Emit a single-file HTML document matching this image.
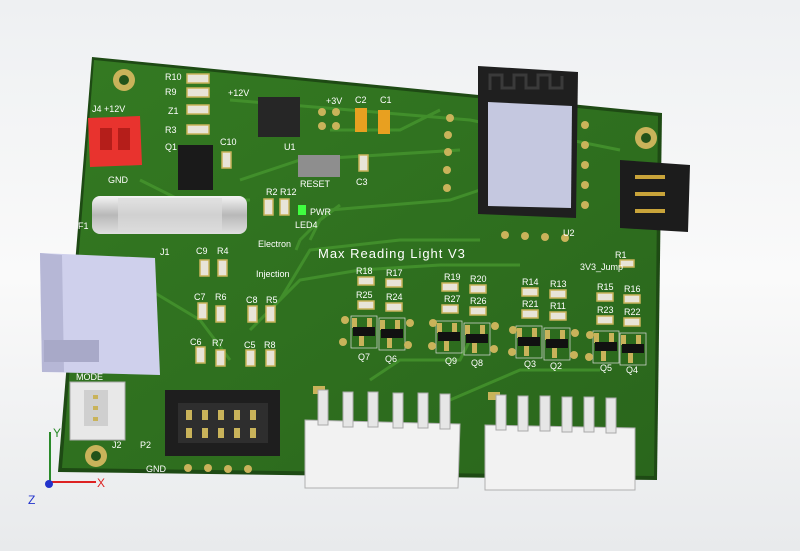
<!DOCTYPE html>
<html><head><style>
html,body{margin:0;padding:0;width:800px;height:551px;overflow:hidden;background:linear-gradient(#eef0f2,#fafafa 50%,#e8eaec);}
svg{display:block}
</style></head><body>
<svg width="800" height="551" viewBox="0 0 800 551" font-family="Liberation Sans, sans-serif">
<defs>
<linearGradient id="pcb" x1="0" y1="0" x2="1" y2="1"><stop offset="0" stop-color="#347a22"/><stop offset="1" stop-color="#2a661c"/></linearGradient>
<linearGradient id="fuse" x1="0" y1="0" x2="0" y2="1"><stop offset="0" stop-color="#f4f4f4"/><stop offset="0.5" stop-color="#b8b8b8"/><stop offset="1" stop-color="#e0e0e0"/></linearGradient>
<g id="q"><rect x="-12" y="-12" width="5" height="10" fill="#c9b35a"/><rect x="3" y="-12" width="5" height="10" fill="#c9b35a"/><rect x="-5" y="6" width="5" height="10" fill="#c9b35a"/><rect x="-11" y="-3" width="22" height="9" fill="#111"/><rect x="-13" y="-14" width="26" height="32" fill="none" stroke="#ddd" stroke-width="0.7"/></g>
</defs>
<polygon points="92,57 662,113 657,480 58,472" fill="#1e4a14"/>
<polygon points="94,60 658,116 654,476 62,468" fill="url(#pcb)"/>
<g stroke="#46962e" stroke-width="3" fill="none" opacity="0.8">
<path d="M230,100 L470,120 L620,150"/><path d="M240,180 L300,160 L460,150"/><path d="M300,240 L330,210 L450,200 L480,190"/>
<path d="M250,330 L300,280 L360,270 L440,265 L520,265"/><path d="M280,300 L310,250 L400,240 L480,240"/>
<path d="M370,380 L400,360 L460,360 L470,340"/><path d="M450,400 L520,370 L600,370"/><path d="M150,290 L200,320 L230,360"/>
<path d="M140,180 L180,200 L250,200"/><path d="M330,130 L400,130 L440,110"/>
<path d="M310,240 L320,220 L340,205"/><path d="M296,250 L300,240"/>
</g>
<g fill="#c9b35a"><circle cx="124" cy="80" r="11"/><circle cx="646" cy="138" r="11"/><circle cx="96" cy="456" r="11"/></g>
<g fill="#23531a"><circle cx="124" cy="80" r="5"/><circle cx="646" cy="138" r="5"/><circle cx="96" cy="456" r="5"/></g>
<polygon points="88,118 140,116 142,165 90,167" fill="#e8332e"/>
<rect x="100" y="128" width="12" height="22" fill="#b51e1a"/><rect x="118" y="128" width="12" height="22" fill="#b51e1a"/>
<rect x="178" y="145" width="35" height="45" fill="#1a1a1a"/>
<rect x="258" y="97" width="42" height="40" fill="#262626"/>
<rect x="298" y="155" width="42" height="22" fill="#8e8e8e"/>
<g fill="#e8e4d8" stroke="#c9b35a" stroke-width="1.5">
<rect x="187" y="74" width="22" height="9"/><rect x="187" y="88" width="22" height="9"/><rect x="187" y="105" width="22" height="9"/><rect x="187" y="125" width="22" height="9"/>
<rect x="222" y="152" width="9" height="16"/><rect x="264" y="199" width="9" height="16"/><rect x="280" y="199" width="9" height="16"/>
<rect x="359" y="155" width="9" height="16"/><rect x="200" y="260" width="9" height="16"/><rect x="218" y="260" width="9" height="16"/>
<rect x="198" y="303" width="9" height="16"/><rect x="216" y="306" width="9" height="16"/><rect x="248" y="306" width="9" height="16"/><rect x="266" y="306" width="9" height="16"/>
<rect x="196" y="347" width="9" height="16"/><rect x="216" y="350" width="9" height="16"/><rect x="246" y="350" width="9" height="16"/><rect x="266" y="350" width="9" height="16"/>
<rect x="358" y="277" width="16" height="8"/><rect x="386" y="279" width="16" height="8"/><rect x="358" y="301" width="16" height="8"/><rect x="386" y="303" width="16" height="8"/>
<rect x="442" y="283" width="16" height="8"/><rect x="470" y="285" width="16" height="8"/><rect x="442" y="305" width="16" height="8"/><rect x="470" y="307" width="16" height="8"/>
<rect x="522" y="288" width="16" height="8"/><rect x="550" y="290" width="16" height="8"/><rect x="522" y="310" width="16" height="8"/><rect x="550" y="312" width="16" height="8"/>
<rect x="597" y="293" width="16" height="8"/><rect x="624" y="295" width="16" height="8"/><rect x="597" y="316" width="16" height="8"/><rect x="624" y="318" width="16" height="8"/>
<rect x="620" y="260" width="14" height="7"/>
</g>
<g fill="#e8a020"><rect x="355" y="108" width="12" height="24"/><rect x="378" y="110" width="12" height="24"/></g>
<rect x="298" y="205" width="8" height="10" fill="#40ff40"/>
<use href="#q" x="364" y="330"/><use href="#q" x="392" y="332"/><use href="#q" x="449" y="335"/><use href="#q" x="477" y="337"/>
<use href="#q" x="529" y="340"/><use href="#q" x="557" y="342"/><use href="#q" x="606" y="345"/><use href="#q" x="633" y="347"/>
<g fill="#c9b35a">
<circle cx="345" cy="320" r="4"/><circle cx="343" cy="342" r="4"/><circle cx="410" cy="323" r="4"/><circle cx="408" cy="345" r="4"/>
<circle cx="433" cy="323" r="4"/><circle cx="432" cy="346" r="4"/><circle cx="495" cy="326" r="4"/><circle cx="494" cy="349" r="4"/>
<circle cx="513" cy="330" r="4"/><circle cx="512" cy="352" r="4"/><circle cx="575" cy="333" r="4"/><circle cx="574" cy="355" r="4"/>
<circle cx="590" cy="335" r="4"/><circle cx="589" cy="357" r="4"/>
</g>
<polygon points="478,66 578,72 576,218 478,214" fill="#1f1f1f"/>
<path d="M490,90 L490,75 L502,75 L502,88 L514,88 L514,75 L526,75 L526,88 L538,88 L538,75 L550,75 L550,88 L562,88 L562,76" stroke="#3a3a3a" stroke-width="3" fill="none"/>
<polygon points="488,102 572,106 571,208 488,206" fill="#c5c8e0"/>
<g fill="#c9b35a">
<circle cx="450" cy="118" r="4"/><circle cx="448" cy="135" r="4"/><circle cx="448" cy="152" r="4"/><circle cx="447" cy="170" r="4"/><circle cx="447" cy="188" r="4"/>
<circle cx="585" cy="125" r="4"/><circle cx="585" cy="145" r="4"/><circle cx="585" cy="165" r="4"/><circle cx="585" cy="185" r="4"/><circle cx="585" cy="205" r="4"/>
<circle cx="505" cy="235" r="4"/><circle cx="525" cy="236" r="4"/><circle cx="545" cy="237" r="4"/><circle cx="565" cy="238" r="4"/>
<circle cx="322" cy="112" r="4"/><circle cx="322" cy="126" r="4"/><circle cx="336" cy="112" r="4"/><circle cx="336" cy="126" r="4"/>
</g>
<polygon points="620,160 690,165 688,232 620,228" fill="#1c1c1c"/>
<g fill="#c9a43a"><rect x="635" y="175" width="30" height="4"/><rect x="635" y="192" width="30" height="4"/><rect x="635" y="209" width="30" height="4"/></g>
<rect x="92" y="196" width="155" height="38" rx="8" fill="url(#fuse)"/>
<rect x="118" y="198" width="104" height="34" fill="#dcdcdc" opacity="0.7"/>
<polygon points="40,253 155,258 160,375 42,372" fill="#cfd0ec"/>
<polygon points="40,253 62,255 64,372 42,372" fill="#b6b7d6"/>
<rect x="44" y="340" width="55" height="22" fill="#a8a9c8"/>
<rect x="70" y="382" width="55" height="58" fill="#e8e8e8" stroke="#aaa"/>
<rect x="84" y="390" width="24" height="36" fill="#cfcfcf"/>
<g fill="#c9b35a"><rect x="93" y="395" width="5" height="4"/><rect x="93" y="406" width="5" height="4"/><rect x="93" y="417" width="5" height="4"/></g>
<rect x="165" y="390" width="115" height="66" fill="#1e1e1e"/>
<rect x="178" y="403" width="90" height="40" fill="#2e2e2e"/>
<g fill="#c9b35a"><rect x="186" y="410" width="6" height="10"/><rect x="202" y="410" width="6" height="10"/><rect x="218" y="410" width="6" height="10"/><rect x="234" y="410" width="6" height="10"/><rect x="250" y="410" width="6" height="10"/>
<rect x="186" y="428" width="6" height="10"/><rect x="202" y="428" width="6" height="10"/><rect x="218" y="428" width="6" height="10"/><rect x="234" y="428" width="6" height="10"/><rect x="250" y="428" width="6" height="10"/>
<circle cx="188" cy="468" r="4"/><circle cx="208" cy="468" r="4"/><circle cx="228" cy="469" r="4"/><circle cx="248" cy="469" r="4"/></g>
<g fill="#c9b35a"><rect x="313" y="386" width="12" height="8"/><rect x="488" y="392" width="12" height="8"/></g>
<g fill="#f2f2f2" stroke="#b0b0b0">
<polygon points="305,420 460,424 458,488 305,488"/>
<polygon points="485,425 635,428 635,490 485,490"/>
</g>
<g fill="#e6e6e6" stroke="#aaa">
<rect x="318" y="390" width="10" height="35"/><rect x="343" y="392" width="10" height="35"/><rect x="368" y="392" width="10" height="35"/><rect x="393" y="393" width="10" height="35"/><rect x="418" y="393" width="10" height="35"/><rect x="440" y="394" width="10" height="35"/>
<rect x="496" y="395" width="10" height="35"/><rect x="518" y="396" width="10" height="35"/><rect x="540" y="396" width="10" height="35"/><rect x="562" y="397" width="10" height="35"/><rect x="584" y="397" width="10" height="35"/><rect x="606" y="398" width="10" height="35"/>
</g>
<g fill="#ffffff" font-size="9">
<text x="92" y="112">J4 +12V</text><text x="108" y="183">GND</text><text x="165" y="80">R10</text><text x="165" y="95">R9</text><text x="168" y="114">Z1</text><text x="165" y="133">R3</text><text x="165" y="150">Q1</text>
<text x="228" y="96">+12V</text><text x="220" y="145">C10</text><text x="284" y="150">U1</text><text x="326" y="104">+3V</text><text x="355" y="103">C2</text><text x="380" y="103">C1</text>
<text x="300" y="187">RESET</text><text x="356" y="185">C3</text><text x="266" y="195">R2 R12</text><text x="310" y="215">PWR</text><text x="295" y="228">LED4</text>
<text x="258" y="247">Electron</text><text x="256" y="277">Injection</text><text x="78" y="229">F1</text><text x="160" y="255">J1</text>
<text x="196" y="254">C9</text><text x="217" y="254">R4</text><text x="194" y="300">C7</text><text x="215" y="300">R6</text><text x="246" y="303">C8</text><text x="266" y="303">R5</text>
<text x="190" y="345">C6</text><text x="212" y="346">R7</text><text x="244" y="348">C5</text><text x="264" y="348">R8</text>
<text x="356" y="274">R18</text><text x="386" y="276">R17</text><text x="356" y="298">R25</text><text x="386" y="300">R24</text>
<text x="444" y="280">R19</text><text x="470" y="282">R20</text><text x="444" y="302">R27</text><text x="470" y="304">R26</text>
<text x="522" y="285">R14</text><text x="550" y="287">R13</text><text x="522" y="307">R21</text><text x="550" y="309">R11</text>
<text x="597" y="290">R15</text><text x="624" y="292">R16</text><text x="597" y="313">R23</text><text x="624" y="315">R22</text>
<text x="358" y="360">Q7</text><text x="385" y="362">Q6</text><text x="445" y="364">Q9</text><text x="471" y="366">Q8</text><text x="524" y="367">Q3</text><text x="550" y="369">Q2</text><text x="600" y="371">Q5</text><text x="626" y="373">Q4</text>
<text x="563" y="236">U2</text><text x="615" y="258">R1</text><text x="580" y="270">3V3_Jump</text>
<text x="76" y="380">MODE</text><text x="112" y="448">J2</text><text x="140" y="448">P2</text><text x="146" y="472">GND</text>
</g>
<text x="318" y="258" fill="#ffffff" font-size="13" letter-spacing="1">Max Reading Light V3</text>
<line x1="50" y1="482" x2="50" y2="432" stroke="#2a8a2a" stroke-width="2"/><text x="53" y="437" fill="#2a8a2a" font-size="12">Y</text>
<line x1="50" y1="482" x2="96" y2="482" stroke="#d22" stroke-width="2"/><text x="97" y="487" fill="#d22" font-size="12">X</text>
<circle cx="49" cy="484" r="4" fill="#2233cc"/><text x="28" y="504" fill="#2233cc" font-size="12">Z</text>
</svg>
</body></html>
